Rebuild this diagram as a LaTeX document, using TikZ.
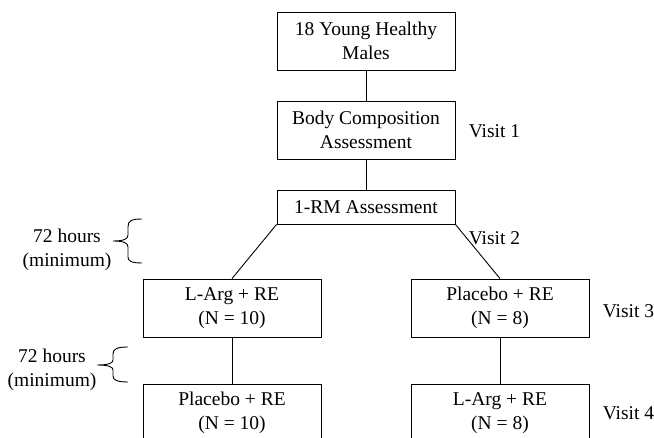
\documentclass[tikz,border=0pt]{standalone}
\usepackage{fontspec}
\setmainfont{Liberation Serif}

\begin{document}
\begin{tikzpicture}[x=1pt,y=-1pt,line width=0.9pt,
  box/.style={draw,minimum width=178pt,minimum height=58pt,align=center,inner sep=2pt,
    font=\fontsize{19.5}{24.5}\selectfont},
  lbl/.style={anchor=west,font=\fontsize{19.5}{24.5}\selectfont},
  wait/.style={align=center,font=\fontsize{19.5}{24.5}\selectfont}]
\useasboundingbox (0,0) rectangle (654,438);
\clip (0,0) rectangle (654,438);
% top column
\node[box] (males) at (366,41) {18 Young Healthy\\Males};
\node[box] (body) at (366,130) {Body Composition\\Assessment};
\node[box,minimum height=34pt] (onerm) at (366,207) {1-RM Assessment};
% two arms
\node[box] (argA) at (232,308) {L-Arg + RE\\(N = 10)};
\node[box] (placA) at (500,308) {Placebo + RE\\(N = 8)};
\node[box] (placB) at (232,413) {Placebo + RE\\(N = 10)};
\node[box] (argB) at (500,413) {L-Arg + RE\\(N = 8)};
% connectors
\draw (males) -- (body);
\draw (body) -- (onerm);
\draw (onerm.south west) -- (argA.north);
\draw (onerm.south east) -- (placA.north);
\draw (argA) -- (placB);
\draw (placA) -- (argB);
% visit labels
\node[lbl] (v1) at (465,131) {Visit 1};
\node[lbl] (v2) at (465,238) {Visit 2};
\node[lbl] (v3) at (599,311) {Visit 3};
\node[lbl] (v4) at (599,413) {Visit 4};
% washout braces
\node[wait] (w1) at (67,250) {72 hours\\(minimum)};
\draw (142,219) .. controls (131,219) and (128,221) .. (128,227) -- (128,235)
  .. controls (128,239) and (124,241) .. (113,241)
  .. controls (124,241) and (128,243) .. (128,247) -- (128,257)
  .. controls (128,261) and (131,263) .. (142,263);
\node[wait] (w2) at (52,370) {72 hours\\(minimum)};
\draw (128,347) .. controls (117,347) and (113,349) .. (113,354) -- (113,360)
  .. controls (113,363) and (109,365) .. (97,365)
  .. controls (109,365) and (113,367) .. (113,370) -- (113,376)
  .. controls (113,380) and (117,382) .. (128,382);
\end{tikzpicture}
\end{document}
